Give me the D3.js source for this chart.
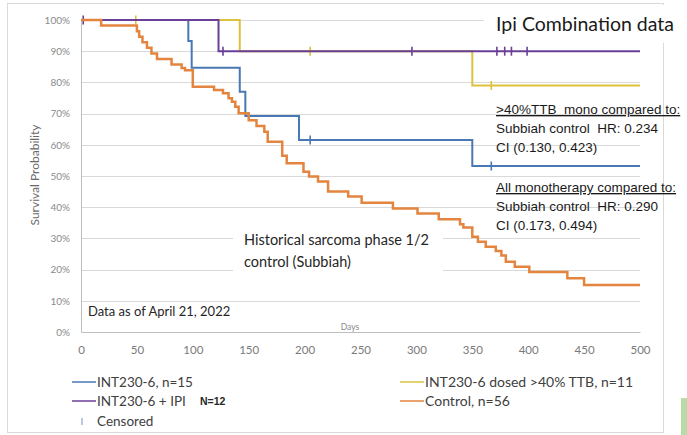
<!DOCTYPE html>
<html>
<head>
<meta charset="utf-8">
<script src="https://cdn.jsdelivr.net/npm/d3@7"></script>
<style>
  body { margin: 0; background: #fff; }
  svg { display: block; }
</style>
</head>
<body>
<svg id="km" width="687" height="435"></svg>
<script>
// Kaplan-Meier curves, values
const xTicks = [0, 50, 100, 150, 200, 250, 300, 350, 400, 450, 500];
const yTicks = [0, 0.1, 0.2, 0.3, 0.4, 0.5, 0.6, 0.7, 0.8, 0.9, 1];

const controlDays = [0, 18, 50, 52, 55, 59, 63, 68, 81, 90, 93, 100, 119, 127, 132, 135, 138, 141, 150, 157, 164, 167,
  180, 184, 199, 204, 212, 221, 239, 251, 279, 301, 320, 339, 342, 350, 355, 362, 371, 376, 380, 388, 401, 435, 450];
const controlSurv = [1, .982, .964, .946, .929, .911, .893, .875, .857, .846, .839, .786, .776, .765, .749, .738, .722, .701,
  .679, .66, .642, .61, .565, .541, .514, .498, .482, .45, .434, .414, .396, .38, .361, .345, .335, .305, .289, .273, .26,
  .245, .225, .209, .192, .172, .151];

const monoDays = [0, 96, 99, 142, 147, 195, 350];
const monoSurv = [1, .933, .847, .77, .692, .615, .532];
const monoCensor = [205, 367];

const ttbDays = [0, 142, 350];
const ttbSurv = [1, .9, .79];
const ttbCensor = [49, 205, 367];

const ipiDays = [0, 123];
const ipiSurv = [1, .9];
const ipiCensor = [2, 127, 296, 372, 379, 385, 399];

const lastDay = 500;

const colors = {
  mono: '#4a78b4',
  ttb: '#dcc23c',
  ipi: '#6a3f98',
  control: '#e3853f'
};

const svg = d3.select('#km');

const x = d3.scaleLinear().domain([0, 500]).range([81, 640]);
const y = d3.scaleLinear().domain([0, 1]).range([332, 20]);

// outer frame
svg.append('rect')
    .attr('x', 7.5).attr('y', 3.5)
    .attr('width', 656).attr('height', 429)
    .style('fill', 'none')
    .style('stroke', '#d9d9d9');

// gridlines
svg.append('g').selectAll('line')
    .data(yTicks.slice(1))
  .enter().append('line')
    .attr('x1', x(0)).attr('x2', x(500))
    .attr('y1', d => Math.round(y(d)) + 0.5)
    .attr('y2', d => Math.round(y(d)) + 0.5)
    .style('stroke', '#d9d9d9')
    .style('stroke-width', '1px');

// axes
let yAxis = d3.axisLeft(y)
    .tickValues(yTicks)
    .tickFormat(d3.format('.0%'))
    .tickSize(0)
    .tickPadding(11);

let xAxis = d3.axisBottom(x)
    .tickValues(xTicks)
    .tickSize(0)
    .tickPadding(14);

let gy = svg.append('g')
    .attr('transform', `translate(${x(0)},0)`)
    .call(yAxis);
gy.select('.domain').style('stroke', '#bfbfbf');
gy.selectAll('text')
    .style('font-family', 'Lato')
    .style('font-size', '10px')
    .style('fill', '#8a8a8a');

let gx = svg.append('g')
    .attr('transform', `translate(0,${y(0)})`)
    .call(xAxis);
gx.select('.domain').style('stroke', '#bfbfbf');
gx.selectAll('text')
    .style('font-family', 'Lato')
    .style('font-size', '11.5px')
    .style('fill', '#7a7a7a');

svg.append('text')
    .attr('transform', 'translate(39,175) rotate(-90)')
    .attr('text-anchor', 'middle')
    .style('font-family', 'Lato')
    .style('font-size', '12px')
    .style('fill', '#6a6a6a')
    .text('Survival Probability');

svg.append('text')
    .attr('x', 350).attr('y', 330)
    .attr('text-anchor', 'middle')
    .style('font-family', 'Lato')
    .style('font-size', '8.5px')
    .style('fill', '#8a8a8a')
    .text('Days');

// white boxes behind the slide text
svg.append('rect')
    .attr('x', 233).attr('y', 224).attr('width', 210).attr('height', 52)
    .style('fill', '#fff');
svg.append('rect')
    .attr('x', 484).attr('y', 5).attr('width', 203).attr('height', 38)
    .style('fill', '#fff');

// curves
let line = d3.line()
    .x(d => x(d[0]))
    .y(d => y(d[1]))
    .curve(d3.curveStepAfter);

function steps(days, surv) {
  let pts = days.map((d, i) => [d, surv[i]]);
  pts.push([lastDay, surv[surv.length - 1]]);
  return pts;
}

function survAt(days, surv, t) {
  let i = d3.bisectRight(days, t) - 1;
  return surv[Math.max(i, 0)];
}

let series = [
  { key: 'mono', days: monoDays, surv: monoSurv, censor: monoCensor, width: 2 },
  { key: 'ttb', days: ttbDays, surv: ttbSurv, censor: ttbCensor, width: 2 },
  { key: 'ipi', days: ipiDays, surv: ipiSurv, censor: ipiCensor, width: 2 },
  { key: 'control', days: controlDays, surv: controlSurv, censor: [], width: 2.5 }
];

series.forEach(s => {
  svg.append('path')
      .datum(steps(s.days, s.surv))
      .attr('d', line)
      .style('fill', 'none')
      .style('stroke', colors[s.key])
      .style('stroke-width', s.width + 'px');

  svg.append('g').selectAll('line')
      .data(s.censor)
    .enter().append('line')
      .attr('x1', d => x(d)).attr('x2', d => x(d))
      .attr('y1', d => y(survAt(s.days, s.surv, d)) - 4.5)
      .attr('y2', d => y(survAt(s.days, s.surv, d)) + 4.5)
      .style('stroke', colors[s.key])
      .style('stroke-width', '1.6px');
});

// slide annotations
svg.append('text')
    .attr('x', 496).attr('y', 31)
    .style('font-family', 'Lato')
    .style('font-size', '19.5px')
    .style('fill', '#1a1a1a')
    .text('Ipi Combination data');

let hist = svg.append('text')
    .style('font-family', 'Lato')
    .style('font-size', '14.5px')
    .style('fill', '#262626');
hist.append('tspan').attr('x', 244).attr('y', 245).text('Historical sarcoma phase 1/2');
hist.append('tspan').attr('x', 244).attr('y', 267).text('control (Subbiah)');

svg.append('text')
    .attr('x', 88).attr('y', 316)
    .style('font-family', 'Lato')
    .style('font-size', '13px')
    .style('fill', '#262626')
    .text('Data as of April 21, 2022');

let notes = [
  { y: 114, lines: ['>40%TTB\u00a0 mono compared to:', 'Subbiah control\u00a0 HR: 0.234', 'CI (0.130, 0.423)'] },
  { y: 192, lines: ['All monotherapy compared to:', 'Subbiah control\u00a0 HR: 0.290', 'CI (0.173, 0.494)'] }
];

notes.forEach(n => {
  let t = svg.append('text')
      .style('font-family', 'Liberation Sans')
      .style('font-size', '13.5px')
      .style('fill', '#1a1a1a');
  n.lines.forEach((l, i) => {
    t.append('tspan')
        .attr('x', 496)
        .attr('y', n.y + i * 19)
        .style('text-decoration', i === 0 ? 'underline' : null)
        .text(l);
  });
});

// legend
let legend = [
  { label: 'INT230-6, n=15', color: colors.mono, x: 72, y: 382, size: 13.5 },
  { label: 'INT230-6 + IPI', color: colors.ipi, x: 72, y: 401, size: 13.5 },
  { label: 'INT230-6 dosed >40% TTB, n=11', color: colors.ttb, x: 400, y: 382, size: 14 },
  { label: 'Control, n=56', color: colors.control, x: 400, y: 401, size: 14 }
];

let lg = svg.append('g').selectAll('g')
    .data(legend)
  .enter().append('g')
    .attr('transform', d => `translate(${d.x},${d.y})`);

lg.append('line')
    .attr('x1', 0).attr('x2', 24)
    .style('stroke', d => d.color)
    .style('stroke-width', '1.5px');

lg.append('text')
    .attr('x', 25).attr('y', 5)
    .style('font-family', 'Lato')
    .style('font-size', d => d.size + 'px')
    .style('fill', '#404040')
    .text(d => d.label);

svg.append('text')
    .attr('x', 200).attr('y', 405)
    .style('font-family', 'Liberation Sans')
    .style('font-size', '10.5px')
    .style('font-weight', 'bold')
    .style('fill', '#262626')
    .text('N=12');

svg.append('line')
    .attr('x1', 82).attr('x2', 82)
    .attr('y1', 418).attr('y2', 425)
    .style('stroke', '#8aa6cc')
    .style('stroke-width', '1.2px');

svg.append('text')
    .attr('x', 97).attr('y', 426)
    .style('font-family', 'Lato')
    .style('font-size', '13.5px')
    .style('fill', '#404040')
    .text('Censored');

// slide edge artefact at bottom right
svg.append('rect')
    .attr('x', 681).attr('y', 398).attr('width', 6).attr('height', 37)
    .style('fill', '#b9dca6');
</script>
</body>
</html>
